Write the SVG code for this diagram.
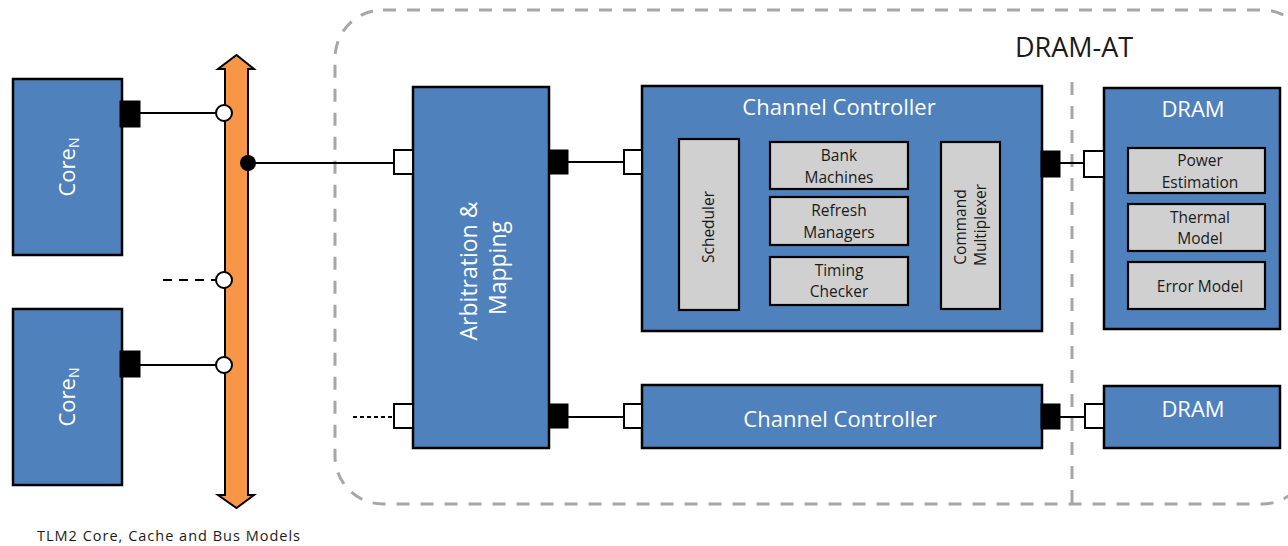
<svg xmlns="http://www.w3.org/2000/svg" width="1288" height="546" viewBox="0 0 1288 546">
  <style>
    .blk { fill: #4f81bd; stroke: #000; stroke-width: 2.5; }
    .sub { fill: #d0d0d0; stroke: #000; stroke-width: 2.2; }
    .wt { fill: #fff; font-family: "Open Sans", "Noto Sans", sans-serif; }
    .dk { fill: #1a1a1a; font-family: "Open Sans", "Noto Sans", sans-serif; }
    .big { font-size: 22px; }
    .sm { font-size: 15.5px; }
    .pin-in { fill: #fff; stroke: #000; stroke-width: 2; }
    .pin-out { fill: #000; stroke: #000; stroke-width: 1; }
    .wire { stroke: #000; stroke-width: 2; fill: none; }
    .bound { fill: none; stroke: #a6a6a6; stroke-width: 3; stroke-dasharray: 13 11; }
  </style>

  <!-- DRAM-AT boundary and split -->
  <g id="dram-at">
    <rect class="bound" x="335" y="10" width="975" height="494" rx="48" ry="48"/>
    <line class="bound" x1="1072" y1="82" x2="1072" y2="504" stroke-width="2.5"/>
    <text class="dk" x="1074" y="57" font-size="27" text-anchor="middle">DRAM-AT</text>
  </g>

  <!-- shared bus -->
  <g id="bus">
    <polygon points="236.5,55 254,69 248,69 248,495 254,495 236.5,508 218,495 225,495 225,69 218,69"
             fill="#f79646" stroke="#000" stroke-width="2" stroke-linejoin="miter"/>
    <text class="dk" x="37" y="541" font-size="14.5" textLength="263" lengthAdjust="spacing">TLM2 Core, Cache and Bus Models</text>
  </g>

  <!-- connectors -->
  <g id="connectors">
    <line class="wire" x1="140" y1="113" x2="216" y2="113"/>
    <line class="wire" x1="140" y1="365" x2="216" y2="365"/>
    <line class="wire" x1="163" y1="280" x2="216" y2="280" stroke-width="3" stroke-dasharray="9 7"/>
    <line class="wire" x1="248" y1="163" x2="394" y2="163"/>
    <line class="wire" x1="568" y1="162" x2="624" y2="162" stroke-width="3"/>
    <line class="wire" x1="1060" y1="163" x2="1084" y2="163" stroke-width="3"/>
    <line class="wire" x1="353" y1="417" x2="394" y2="417" stroke-dasharray="4 3"/>
    <line class="wire" x1="568" y1="417" x2="624" y2="417"/>
    <line class="wire" x1="1060" y1="417" x2="1085" y2="417"/>
    <circle cx="224" cy="113" r="8" fill="#fff" stroke="#000" stroke-width="2"/>
    <circle cx="224" cy="280" r="8" fill="#fff" stroke="#000" stroke-width="2"/>
    <circle cx="224" cy="365" r="8" fill="#fff" stroke="#000" stroke-width="2"/>
    <circle cx="248" cy="163" r="8" fill="#000"/>
  </g>

  <!-- cores -->
  <g id="core-a">
    <rect class="blk" x="13" y="79" width="109" height="176"/>
    <rect class="pin-out" x="120" y="101" width="20" height="26"/>
    <text class="wt big" transform="translate(75,167) rotate(-90)" text-anchor="middle">Core<tspan font-size="14" dy="4">N</tspan></text>
  </g>
  <g id="core-b">
    <rect class="blk" x="13" y="309" width="109" height="176"/>
    <rect class="pin-out" x="120" y="351" width="20" height="26"/>
    <text class="wt big" transform="translate(75,397) rotate(-90)" text-anchor="middle">Core<tspan font-size="14" dy="4">N</tspan></text>
  </g>

  <!-- arbitration & mapping -->
  <g id="arbiter">
    <rect class="blk" x="413" y="87" width="136" height="361"/>
    <rect class="pin-in" x="394" y="150" width="19" height="24"/>
    <rect class="pin-in" x="394" y="404" width="19" height="24"/>
    <rect class="pin-out" x="549" y="150" width="19" height="24"/>
    <rect class="pin-out" x="549" y="404" width="19" height="24"/>
    <text class="wt" font-size="23" transform="translate(481,268) rotate(-90)" text-anchor="middle">
      <tspan x="0" y="-4">Arbitration &amp;</tspan>
      <tspan x="0" y="25">Mapping</tspan>
    </text>
  </g>

  <!-- channel controller (detailed) -->
  <g id="channel-controller-0">
    <rect class="blk" x="642" y="86" width="400" height="245"/>
    <rect class="pin-in" x="624" y="150" width="18" height="24"/>
    <rect class="pin-out" x="1041" y="151" width="19" height="26"/>
    <text class="wt big" x="839" y="115" text-anchor="middle">Channel Controller</text>
    <rect class="sub" x="679" y="139" width="60" height="171"/>
    <text class="dk sm" transform="translate(714,227) rotate(-90)" text-anchor="middle">Scheduler</text>
    <rect class="sub" x="770" y="142" width="138" height="47"/>
    <text class="dk sm" x="839" y="161" text-anchor="middle">Bank</text>
    <text class="dk sm" x="839" y="183" text-anchor="middle">Machines</text>
    <rect class="sub" x="770" y="197" width="138" height="48"/>
    <text class="dk sm" x="839" y="216" text-anchor="middle">Refresh</text>
    <text class="dk sm" x="839" y="238" text-anchor="middle">Managers</text>
    <rect class="sub" x="770" y="257" width="138" height="48"/>
    <text class="dk sm" x="839" y="276" text-anchor="middle">Timing</text>
    <text class="dk sm" x="839" y="297" text-anchor="middle">Checker</text>
    <rect class="sub" x="941" y="142" width="59" height="167"/>
    <text class="dk sm" transform="translate(970,225) rotate(-90)" text-anchor="middle">
      <tspan x="0" y="-4">Command</tspan>
      <tspan x="0" y="16">Multiplexer</tspan>
    </text>
  </g>

  <!-- DRAM (detailed) -->
  <g id="dram-0">
    <rect class="blk" x="1104" y="88" width="176" height="241"/>
    <rect class="pin-in" x="1084" y="151" width="20" height="26"/>
    <text class="wt big" x="1193" y="117" text-anchor="middle">DRAM</text>
    <rect class="sub" x="1128" y="148" width="137" height="45"/>
    <text class="dk sm" x="1200" y="166" text-anchor="middle">Power</text>
    <text class="dk sm" x="1200" y="188" text-anchor="middle">Estimation</text>
    <rect class="sub" x="1128" y="204" width="137" height="47"/>
    <text class="dk sm" x="1200" y="223" text-anchor="middle">Thermal</text>
    <text class="dk sm" x="1200" y="244" text-anchor="middle">Model</text>
    <rect class="sub" x="1128" y="262" width="137" height="47"/>
    <text class="dk sm" x="1200" y="292" text-anchor="middle">Error Model</text>
  </g>

  <!-- channel controller (collapsed) -->
  <g id="channel-controller-1">
    <rect class="blk" x="642" y="385" width="400" height="63"/>
    <rect class="pin-in" x="624" y="404" width="18" height="24"/>
    <rect class="pin-out" x="1041" y="404" width="19" height="25"/>
    <text class="wt big" x="840" y="427" text-anchor="middle">Channel Controller</text>
  </g>

  <!-- DRAM (collapsed) -->
  <g id="dram-1">
    <rect class="blk" x="1104" y="386" width="176" height="62"/>
    <rect class="pin-in" x="1085" y="404" width="19" height="24"/>
    <text class="wt big" x="1193" y="417" text-anchor="middle">DRAM</text>
  </g>
</svg>
